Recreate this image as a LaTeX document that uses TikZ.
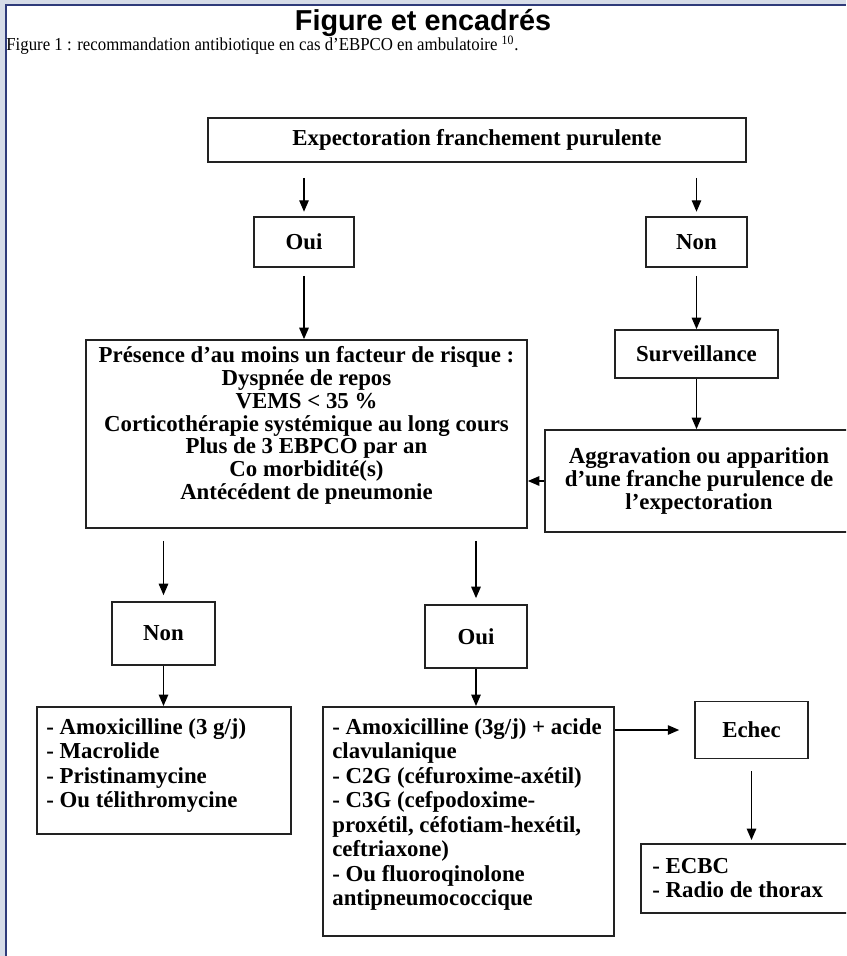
\documentclass[tikz,border=0pt]{standalone}
\usepackage{fontspec}
\setmainfont{Liberation Serif}
\newfontfamily\titlefont{Liberation Sans}
\newfontfamily\capfont{Liberation Serif}[FakeStretch=0.92]
\usepackage{xcolor}
\usetikzlibrary{arrows.meta, positioning, calc}
\definecolor{C_FRAME}{HTML}{D6DCE8}
\definecolor{C_EDGE} {HTML}{2F3B7A}
\definecolor{C_BOX}  {HTML}{222222}
\newdimen\pu \pu=0.02cm

\begin{document}
\begin{tikzpicture}[
  x=0.02cm, y=-0.02cm,
  every node/.style={font=\fontsize{13}{13.4}\selectfont\bfseries},
  box/.style={draw=C_BOX, line width=1pt, inner sep=0pt, align=center},
  txt/.style={inner sep=0pt, align=center},
  list/.style={inner sep=0pt, align=left, font=\fontsize{13}{13.95}\selectfont\bfseries},
  arrow/.style={-{Triangle[length=6.5pt, width=5.4pt]}, line width=0.75pt},
]

%% page frame
\useasboundingbox (0,0) rectangle (846,956);
\fill[C_FRAME] (0,0) rectangle (846,956);
\fill[white] (6,5) rectangle (846,956);
\draw[C_EDGE, line width=1.1pt] (6,956) -- (6,5) -- (846,5);
\clip (0,0) rectangle (846,956);

%% heading
\node[inner sep=0pt, anchor=base, font=\titlefont\fontsize{16.4}{18}\selectfont\bfseries]
  (title) at (423,31) {Figure et encadrés};
\node[inner sep=0pt, anchor=base west, font=\capfont\fontsize{10.4}{12}\selectfont]
  (caption) at (6,51) {Figure 1 : recommandation antibiotique en cas d’EBPCO en ambulatoire \textsuperscript{10}.};

%% first level
\node[box, minimum width=538\pu, minimum height=44\pu] (expect) at (477,140)
  {Expectoration franchement purulente};
\node[box, minimum width=100\pu, minimum height=50\pu] (ouiA) at (304,242) {Oui};
\node[box, minimum width=101\pu, minimum height=50\pu] (nonA) at (696.5,242) {Non};

%% risk factors / follow-up
\node[box, minimum width=441\pu, minimum height=188\pu] (risk) at (306.5,434) {};
\node[txt, anchor=north, font=\fontsize{13}{13}\selectfont\bfseries]
  (risktxt) at ($(risk.north)+(0,7)$)
  {Présence d’au moins un facteur de risque :\\
   Dyspnée de repos\\
   VEMS < 35 \%\\
   Corticothérapie systémique au long cours\\
   Plus de 3 EBPCO par an\\
   Co morbidité(s)\\
   Antécédent de pneumonie};
\node[box, minimum width=163\pu, minimum height=48\pu] (surv) at (696.5,354) {Surveillance};
\node[box, minimum width=308\pu, minimum height=102\pu,
      font=\fontsize{13}{13.3}\selectfont\bfseries] (aggr) at (699,481)
  {Aggravation ou apparition\\ d’une franche purulence de\\ l’expectoration};

%% second level
\node[box, minimum width=103\pu, minimum height=63\pu] (nonB) at (163.5,633.5) {Non};
\node[box, minimum width=102\pu, minimum height=63\pu] (ouiB) at (476,636.5) {Oui};

%% treatments
\node[box, anchor=north west, minimum width=254\pu, minimum height=127\pu] (amox) at (36,706) {};
\node[list, anchor=north west] (amoxtxt) at ($(amox.north west)+(10,12)$)
  {- Amoxicilline (3 g/j)\\ - Macrolide\\ - Pristinamycine\\ - Ou télithromycine};
\node[box, anchor=north west, minimum width=291\pu, minimum height=229\pu] (augm) at (322,706) {};
\node[list, anchor=north west] (augmtxt) at ($(augm.north west)+(10,12)$)
  {- Amoxicilline (3g/j) + acide\\ clavulanique\\ - C2G (céfuroxime-axétil)\\
   - C3G (cefpodoxime-\\ proxétil, céfotiam-hexétil,\\ ceftriaxone)\\
   - Ou fluoroqinolone\\ antipneumococcique};
\node[box, minimum width=113\pu, minimum height=57\pu] (echec) at (751.5,730) {Echec};
\node[box, anchor=north west, minimum width=224\pu, minimum height=69\pu] (exam) at (640,843) {};
\node[list, anchor=north west] (examtxt) at ($(exam.north west)+(12,15)$)
  {- ECBC\\ - Radio de thorax};

%% connectors
\draw[arrow, shorten <=8.5pt, shorten >=2.5pt] (expect.south -| ouiA.north) -- (ouiA.north);
\draw[arrow, shorten <=8.5pt, shorten >=2.5pt] (expect.south -| nonA.north) -- (nonA.north);
\draw[arrow, shorten <=4.5pt] (ouiA.south) -- (risk.north -| ouiA.south);
\draw[arrow, shorten <=4.5pt] (nonA.south) -- (surv.north -| nonA.south);
\draw[arrow] (surv.south) -- (aggr.north -| surv.south);
\draw[arrow] (aggr.west) -- (aggr.west -| risk.east);
\draw[arrow, shorten <=6.8pt, shorten >=3.4pt] (risk.south -| nonB.north) -- (nonB.north);
\draw[arrow, shorten <=6.8pt, shorten >=3.4pt] (risk.south -| ouiB.north) -- (ouiB.north);
\draw[arrow] (nonB.south) -- (amox.north -| nonB.south);
\draw[arrow] (ouiB.south) -- (augm.north -| ouiB.south);
\draw[arrow, shorten >=8.5pt] (echec.west -| augm.east) -- (echec.west);
\draw[arrow, shorten <=6.8pt, shorten >=1.7pt] (echec.south) -- (exam.north -| echec.south);

\end{tikzpicture}
\end{document}
